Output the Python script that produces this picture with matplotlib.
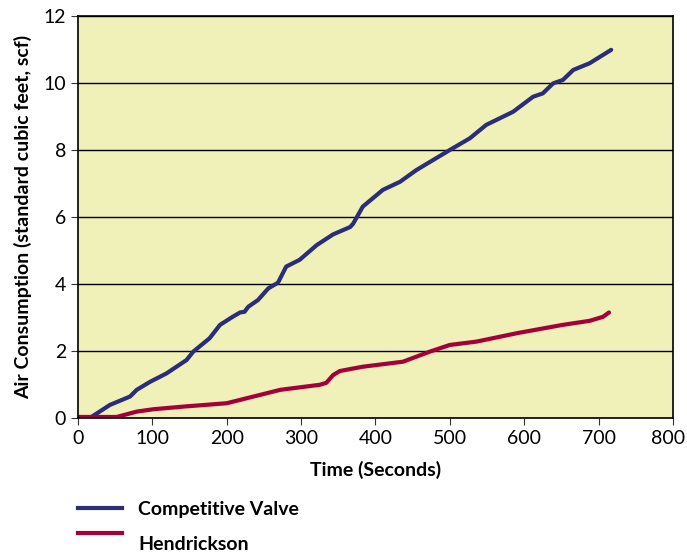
# air consumption over time, two valves
import matplotlib.pyplot as plt
import matplotlib.transforms as mtransforms
from matplotlib.lines import Line2D

plt.rcParams['font.family'] = ['Lato', 'DejaVu Sans']

# Competitive Valve (seconds, scf)
t_comp = [0, 16, 43, 70, 79, 97, 119, 146, 155, 177, 191, 208, 218, 224, 229, 242,
          256, 269, 280, 298, 321, 343, 366, 370, 383, 410, 433, 455, 500, 527, 549,
          585, 612, 625, 639, 652, 666, 688, 717]
v_comp = [0, 0, 0.39, 0.64, 0.84, 1.08, 1.33, 1.73, 1.98, 2.38, 2.78, 3.02, 3.15, 3.17,
          3.32, 3.52, 3.87, 4.04, 4.52, 4.72, 5.16, 5.48, 5.70, 5.80, 6.31, 6.81, 7.05,
          7.40, 8.0, 8.35, 8.75, 9.14, 9.59, 9.69, 9.99, 10.09, 10.39, 10.59, 10.99]

# Hendrickson (seconds, scf)
t_hend = [0, 52, 79, 101, 142, 200, 236, 272, 325, 334, 343, 352, 366, 383, 437, 473,
          500, 536, 590, 652, 688, 706, 714]
v_hend = [0.03, 0.03, 0.19, 0.26, 0.34, 0.44, 0.64, 0.84, 0.99, 1.05, 1.28, 1.40, 1.46,
          1.53, 1.68, 1.98, 2.18, 2.28, 2.53, 2.78, 2.90, 3.02, 3.15]

blue = '#2b2c7a'
red = '#a3003a'

fig = plt.figure(figsize=(6.87, 5.52), dpi=100)
ax = fig.add_axes([0.1135, 0.2428, 0.866, 0.7282])
ax.set_facecolor('#f0f0b9')

ax.plot(t_comp, v_comp, color=blue, lw=3, solid_capstyle='round', solid_joinstyle='round')
ax.plot(t_hend, v_hend, color=red, lw=3, solid_capstyle='round', solid_joinstyle='round')

ax.set_xlim(0, 800)
ax.set_ylim(0, 12)
ax.set_xticks(range(0, 801, 100))
ax.set_yticks(range(0, 13, 2))
ax.yaxis.grid(True, color='black', lw=1)
ax.set_axisbelow(True)
ax.tick_params(labelsize=14, direction='out', length=5, color='#333333')
for s in ax.spines.values():
    s.set_linewidth(1.2)

# keep the last x label inside the figure
last = ax.get_xticklabels()[-1]
last.set_transform(last.get_transform() +
                   mtransforms.ScaledTranslation(-5 / 100, 0, fig.dpi_scale_trans))

ax.set_xlabel('Time (Seconds)', fontsize=14, fontweight='bold', labelpad=10)
ax.set_ylabel('Air Consumption (standard cubic feet, scf)', fontsize=14,
              fontweight='bold', labelpad=8)

# legend below the chart
fig.add_artist(Line2D([78 / 687, 122 / 687], [1 - 508 / 552] * 2, color=blue, lw=3))
fig.add_artist(Line2D([78 / 687, 122 / 687], [1 - 533 / 552] * 2, color=red, lw=3))
fig.text(138 / 687, 1 - 509 / 552, 'Competitive Valve', fontsize=14,
         fontweight='bold', va='center')
fig.text(138 / 687, 1 - 544 / 552, 'Hendrickson', fontsize=14,
         fontweight='bold', va='center')

fig.savefig('out.png', dpi=100)
